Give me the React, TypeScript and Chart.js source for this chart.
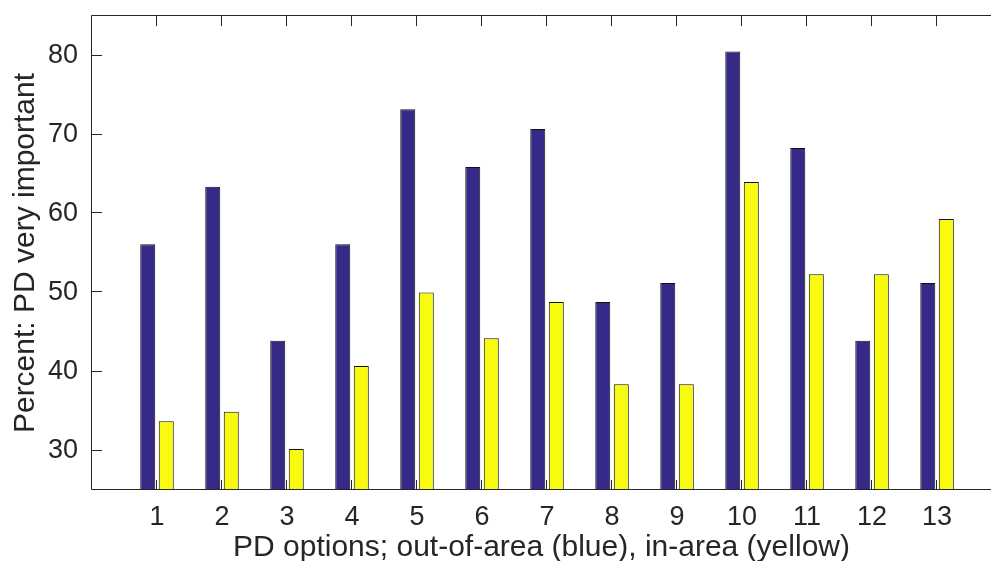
import React, { useEffect, useRef } from "react";
import { Chart, registerables } from "chart.js";

Chart.register(...registerables);

const categories = [1, 2, 3, 4, 5, 6, 7, 8, 9, 10, 11, 12, 13];
const outOfArea = [56.1, 63.4, 43.9, 56.1, 73.2, 65.9, 70.7, 48.8, 51.2, 80.5, 68.3, 43.9, 51.2];
const inArea = [33.7, 34.9, 30.2, 40.7, 50.0, 44.2, 48.8, 38.4, 38.4, 64.0, 52.3, 52.3, 59.3];
const yTicks = [30, 40, 50, 60, 70, 80];
const xTickLabels = ["1", "2", "3", "4", "5", "6", "7", "8", "9", "10", "11", "12", "13"];

const BLUE = "#352A87";
const YELLOW = "#F9FB0E";
const AXIS = "#262626";
const FAMILY = "'Liberation Sans', Arial, Helvetica, sans-serif";

const axisPlugin = {
  id: "matlabAxes",
  beforeDatasetsDraw(chart: any) {
    const { ctx, chartArea } = chart;
    const xs = chart.scales.x;
    const ys = chart.scales.y;
    const tl = 10;
    ctx.save();
    ctx.strokeStyle = AXIS;
    ctx.lineWidth = 1;
    ctx.beginPath();
    categories.forEach((v) => {
      const px = Math.round(xs.getPixelForValue(v)) - 0.5;
      ctx.moveTo(px, chartArea.bottom);
      ctx.lineTo(px, chartArea.bottom - tl);
      ctx.moveTo(px, chartArea.top);
      ctx.lineTo(px, chartArea.top + tl);
    });
    yTicks.forEach((v) => {
      const py = Math.round(ys.getPixelForValue(v)) - 0.5;
      ctx.moveTo(chartArea.left, py);
      ctx.lineTo(chartArea.left + tl, py);
    });
    ctx.stroke();
    ctx.restore();
  },
  afterDatasetsDraw(chart: any) {
    const { ctx, chartArea } = chart;
    ctx.save();
    ctx.strokeStyle = AXIS;
    ctx.lineWidth = 1;
    ctx.beginPath();
    const l = chartArea.left - 0.5;
    const t = chartArea.top - 0.5;
    const b = chartArea.bottom - 0.5;
    ctx.moveTo(chartArea.right, t);
    ctx.lineTo(l, t);
    ctx.lineTo(l, b);
    ctx.lineTo(chartArea.right, b);
    ctx.stroke();
    ctx.restore();
  },
};

export default function App() {
  const ref = useRef<HTMLCanvasElement>(null);
  useEffect(() => {
    document.body.style.margin = "0";
    document.body.style.overflow = "hidden";
    const tickFont = { family: FAMILY, size: 27 };
    const titleFont = { family: FAMILY, size: 30, lineHeight: 0.9 };
    const chart = new Chart(ref.current as HTMLCanvasElement, {
      type: "bar",
      data: {
        datasets: [
          {
            label: "out-of-area",
            data: categories.map((c, i) => ({ x: c, y: outOfArea[i] })),
            backgroundColor: BLUE,
            borderColor: "#111111",
            borderWidth: 1,
            borderSkipped: "start",
            categoryPercentage: 0.57,
            barPercentage: 0.81,
          },
          {
            label: "in-area",
            data: categories.map((c, i) => ({ x: c, y: inArea[i] })),
            backgroundColor: YELLOW,
            borderColor: "#111111",
            borderWidth: 1,
            borderSkipped: "start",
            categoryPercentage: 0.57,
            barPercentage: 0.81,
          },
        ] as any,
      },
      options: {
        animation: false,
        responsive: false,
        maintainAspectRatio: false,
        layout: { padding: { top: 16, left: 0, right: 0, bottom: 0 } },
        plugins: { legend: { display: false }, tooltip: { enabled: false } },
        scales: {
          x: {
            type: "linear",
            min: 0,
            max: 13.83,
            offset: false,
            grid: { display: false, drawTicks: false },
            border: { display: false },
            afterBuildTicks: (s: any) => {
              s.ticks = categories.map((v) => ({ value: v }));
            },
            afterFit: (s: any) => {
              s.height = 71;
              s.paddingLeft = 0;
              s.paddingRight = 0;
            },
            ticks: {
              autoSkip: false,
              maxRotation: 0,
              padding: 11,
              color: AXIS,
              font: tickFont,
              callback: (v: any) => xTickLabels[categories.indexOf(Number(v))] ?? "",
            },
            title: {
              display: true,
              text: "PD options; out-of-area (blue), in-area (yellow)",
              color: AXIS,
              font: titleFont,
              padding: { top: 0, bottom: 0 },
            },
          },
          y: {
            type: "linear",
            min: 25,
            max: 85,
            grid: { display: false, drawTicks: false },
            border: { display: false },
            afterBuildTicks: (s: any) => {
              s.ticks = yTicks.map((v) => ({ value: v }));
            },
            afterFit: (s: any) => {
              s.width = 92;
              s.paddingTop = 0;
              s.paddingBottom = 0;
            },
            ticks: {
              padding: 14,
              color: AXIS,
              font: tickFont,
              callback: (v: any) => String(v),
            },
            title: {
              display: true,
              text: "Percent: PD very important",
              color: AXIS,
              font: titleFont,
              padding: { top: 12, bottom: 0 },
            },
          },
        },
      } as any,
      plugins: [axisPlugin],
    });
    return () => chart.destroy();
  }, []);
  return (
    <div style={{ width: 991, height: 561, position: "relative" }}>
      <canvas ref={ref} width={991} height={561} style={{ display: "block" }} />
    </div>
  );
}
